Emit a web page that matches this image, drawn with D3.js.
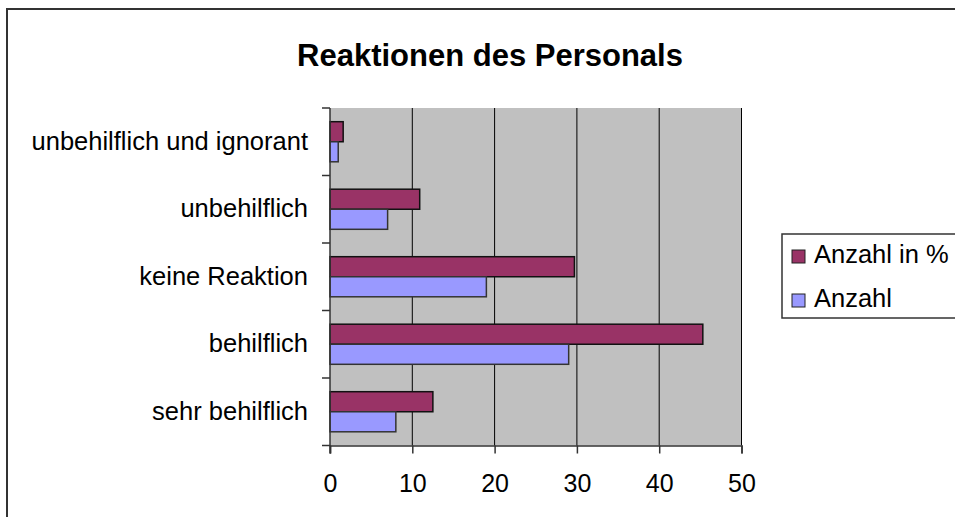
<!DOCTYPE html>
<html>
<head>
<meta charset="utf-8">
<script src="https://cdn.jsdelivr.net/npm/d3@7"></script>
<style>
  body { margin: 0; background: #fff; }
  text { font-family: "Liberation Sans", Arial, sans-serif; }
</style>
</head>
<body>
<svg width="955" height="517"></svg>
<script>
// categories top to bottom
var categories = ['unbehilflich und ignorant', 'unbehilflich', 'keine Reaktion', 'behilflich', 'sehr behilflich'];
var seriesNames = ['Anzahl in %', 'Anzahl'];
var prozent = [1.6, 10.9, 29.7, 45.3, 12.5];
var anzahl = [1, 7, 19, 29, 8];
var xTicks = [0, 10, 20, 30, 40, 50];
var colors = ['#993366', '#9999ff'];

var svg = d3.select('svg');

// chart frame
svg.append('rect')
  .attr('x', 7).attr('y', 9)
  .attr('width', 960).attr('height', 520)
  .attr('fill', '#fff')
  .attr('stroke', '#333')
  .attr('stroke-width', 2);

svg.append('text')
  .attr('x', 490).attr('y', 66)
  .attr('text-anchor', 'middle')
  .style('font-size', '31px')
  .style('font-weight', 'bold')
  .text('Reaktionen des Personals');

var plotLeft = 330, plotRight = 741.5, plotTop = 108, plotBottom = 445.5;

var x = d3.scaleLinear().domain([0, 50]).range([plotLeft, plotRight]);
var y = d3.scaleBand().domain(categories).range([plotTop, plotBottom])
  .paddingInner(0.406).paddingOuter(0.203);
var ySub = d3.scaleBand().domain(seriesNames).range([0, y.bandwidth()]);

// plot area
svg.append('rect')
  .attr('x', plotLeft).attr('y', plotTop)
  .attr('width', plotRight - plotLeft).attr('height', plotBottom - plotTop)
  .attr('fill', '#c0c0c0');

// gridlines
svg.append('g')
  .selectAll('line')
  .data(xTicks.slice(1))
  .enter().append('line')
  .attr('x1', d => x(d)).attr('x2', d => x(d))
  .attr('y1', plotTop).attr('y2', plotBottom)
  .attr('stroke', '#000')
  .attr('stroke-width', 1);

// bars
var data = categories.map((c, i) => ({ cat: c, values: [prozent[i], anzahl[i]] }));

var groups = svg.append('g')
  .selectAll('g')
  .data(data)
  .enter().append('g')
  .attr('transform', d => 'translate(0,' + y(d.cat) + ')');

groups.selectAll('rect')
  .data(d => d.values.map((v, j) => ({ name: seriesNames[j], value: v, j: j })))
  .enter().append('rect')
  .attr('x', x(0))
  .attr('y', d => ySub(d.name))
  .attr('width', d => x(d.value) - x(0))
  .attr('height', ySub.bandwidth())
  .attr('fill', d => colors[d.j])
  .attr('stroke', d => d.j === 0 ? '#111' : '#333')
  .attr('stroke-width', 1.5);

// x axis
var xAxis = svg.append('g')
  .attr('transform', 'translate(0,' + plotBottom + ')')
  .call(d3.axisBottom(x).tickValues(xTicks).tickSize(8).tickPadding(21));
xAxis.select('.domain').attr('stroke', '#333').attr('stroke-width', 1.5);
xAxis.selectAll('.tick line').attr('stroke', '#333').attr('stroke-width', 1.5);
xAxis.selectAll('text')
  .style('font-size', '25px')
  .style('font-family', '"Liberation Sans", Arial, sans-serif')
  .attr('fill', '#000');

// y axis: ticks at category boundaries
var yEdges = d3.range(categories.length + 1).map(i => plotTop + i * y.step());
svg.append('line')
  .attr('x1', plotLeft).attr('x2', plotLeft)
  .attr('y1', plotTop).attr('y2', plotBottom + 8)
  .attr('stroke', '#333').attr('stroke-width', 1.5);
svg.append('g')
  .selectAll('line')
  .data(yEdges)
  .enter().append('line')
  .attr('x1', plotLeft - 8).attr('x2', plotLeft)
  .attr('y1', d => d).attr('y2', d => d)
  .attr('stroke', '#333').attr('stroke-width', 1.5);

svg.append('g')
  .selectAll('text')
  .data(categories)
  .enter().append('text')
  .attr('x', 308)
  .attr('y', d => y(d) + y.bandwidth() / 2 + 8)
  .attr('text-anchor', 'end')
  .style('font-size', '25.5px')
  .text(d => d);

// legend
svg.append('rect')
  .attr('x', 782).attr('y', 234)
  .attr('width', 200).attr('height', 84)
  .attr('fill', '#fff')
  .attr('stroke', '#333')
  .attr('stroke-width', 1.5);

var legend = svg.append('g')
  .selectAll('g')
  .data(seriesNames)
  .enter().append('g')
  .attr('transform', (d, i) => 'translate(792,' + (250 + i * 44) + ')');

legend.append('rect')
  .attr('width', 13).attr('height', 13)
  .attr('fill', (d, i) => colors[i])
  .attr('stroke', '#222')
  .attr('stroke-width', 1);

legend.append('text')
  .attr('x', 22).attr('y', 13)
  .style('font-size', '25.5px')
  .text(d => d);
</script>
</body>
</html>
